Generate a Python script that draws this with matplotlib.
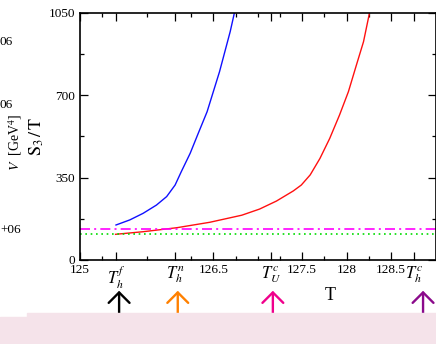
import matplotlib
matplotlib.use("Agg")
import matplotlib.pyplot as plt
import matplotlib.transforms as mtransforms
from matplotlib.patches import Rectangle

plt.rcParams['font.family'] = ['Liberation Serif', 'DejaVu Serif']
plt.rcParams['mathtext.fontset'] = 'stix'

# S3/T curves
blue_T = [125.405, 125.56, 125.71, 125.86, 125.975, 126.07, 126.14, 126.24, 126.33, 126.43,
          126.50, 126.57, 126.63, 126.69, 126.74]
blue_S = [148.5, 170, 198, 233, 269, 318, 375, 453, 537, 629, 714, 799, 884, 969, 1053]
red_T = [125.40, 125.71, 126.09, 126.46, 126.82, 127.02, 127.21, 127.40, 127.49, 127.59,
         127.70, 127.81, 127.92, 128.02, 128.11, 128.19, 128.26]
red_S = [109, 120, 137, 160, 190, 216, 250, 293, 318, 361, 431, 516, 615, 714, 827, 926, 1053]
magenta_level = 133
green_level = 109

# special temperatures on the x axis
T_marks = [125.41, 126.07, 127.15, 128.76]
T_mark_labels = [r'$T_h^f$', r'$T_h^n$', r'$T_U^c$', r'$T_h^c$']
num_ticks = [125, 126.5, 127.5, 128, 128.5]
arrow_T = [125.44, 126.10, 127.17, 128.86]
arrow_colors = ['black', '#ff8000', '#f0008c', '#8b0a8b']

fig = plt.figure(figsize=(4.36, 3.44), dpi=100)
ax = fig.add_axes([80/436, 1-260/344, 355.5/436, 247.5/344])

# piece of the figure underneath (pink band)
fig.patches.append(Rectangle((27/436, 0), 1, (344-313.3)/344, transform=fig.transFigure,
                             color='#f5e3ea', zorder=0))
fig.patches.append(Rectangle((0, 0), 27/436, (344-316.7)/344, transform=fig.transFigure,
                             color='#f5e3ea', zorder=0))

ax.plot(blue_T, blue_S, color='#1010ff', lw=1.0)
ax.plot(red_T, red_S, color='#ff1010', lw=1.0)
ax.axhline(magenta_level, color='#ff00ff', lw=1.2, ls=(0, (6, 2.5, 1.2, 2.5)))
ax.axhline(green_level, color='#00dd00', lw=1.2, ls=(0, (1, 2.2)))

ax.set_xlim(125, 129)
ax.set_ylim(0, 1050)

ticks = num_ticks + T_marks
labels = [str(t) for t in num_ticks] + T_mark_labels
order = sorted(range(len(ticks)), key=lambda i: ticks[i])
ax.set_xticks([ticks[i] for i in order])
ax.set_xticklabels([labels[i] for i in order])
ax.set_xticks([125.25, 125.75, 126.25, 126.75, 127, 127.25, 127.75, 128.25], minor=True)
ax.set_yticks([0, 350, 700, 1050])
ax.set_yticks([175, 525, 875], minor=True)
ax.tick_params(which='both', direction='in', top=True, right=True, labelsize=9.5, width=0.9)
ax.tick_params(which='major', length=6)
ax.tick_params(which='minor', length=3)
ax.tick_params(axis='x', pad=3)
for lab in ax.get_xticklabels():
    if lab.get_text().startswith('$'):
        lab.set_fontsize(12)
for sp in ax.spines.values():
    sp.set_linewidth(1.2)

ax.set_ylabel(r'$\mathrm{S}_3\,/\,\mathrm{T}$', fontsize=13)
ax.yaxis.set_label_coords(-0.096, 0.5)
ax.set_xlabel('T', fontsize=13)
ax.xaxis.set_label_coords((330-80)/355.5, -0.11)

# arrows of the lower panel
trans = mtransforms.blended_transform_factory(ax.transData, fig.transFigure)
for t, c in zip(arrow_T, arrow_colors):
    ax.annotate('', xy=(t, 1-288/344), xycoords=trans, xytext=(t, -0.02), textcoords=trans,
                arrowprops=dict(arrowstyle='->,head_length=0.75,head_width=0.75', color=c, lw=1.7),
                annotation_clip=False)

# cut-off pieces of the neighbouring panel
fig.text(0, 1-42/344, '06', fontsize=9.5, va='center', ha='left')
fig.text(0, 1-105/344, '06', fontsize=9.5, va='center', ha='left')
fig.text(0, 1-230/344, '+06', fontsize=9.5, va='center', ha='left')
fig.text(15/436, 1-142/344, r'$V$  [GeV$^4$]', fontsize=10, rotation=90, va='center', ha='center')

fig.savefig('out.png', dpi=100)
